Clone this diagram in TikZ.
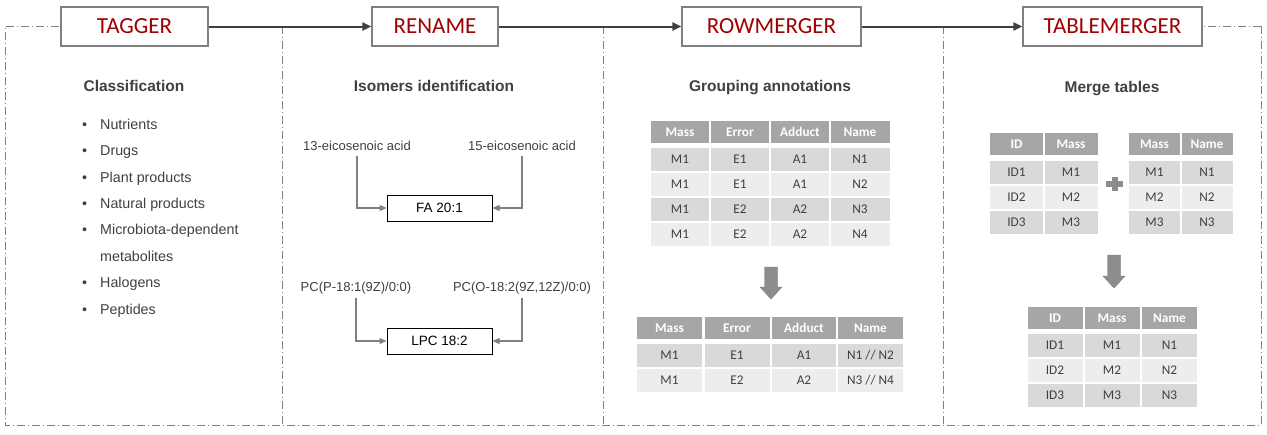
\documentclass[tikz,border=0pt]{standalone}
\usepackage{fontspec}
\setmainfont{Liberation Sans}
\newfontfamily\calfont{Carlito}
\usetikzlibrary{arrows.meta}

\definecolor{stepred}{HTML}{A00000}
\definecolor{framegray}{HTML}{808080}
\definecolor{textgray}{HTML}{404040}
\definecolor{headgray}{HTML}{A6A6A6}
\definecolor{darkrow}{HTML}{D9D9D9}
\definecolor{lightrow}{HTML}{EDEDED}
\definecolor{blockgray}{HTML}{8C8C8C}

\tikzset{
  stepbox/.style={draw=framegray, line width=1.2pt, fill=white, minimum height=39pt, inner sep=0pt, text=stepred, font=\calfont\fontsize{23}{23}\selectfont},
  frameline/.style={draw=framegray, line width=0.8pt, dash pattern=on 8pt off 3pt on 1pt off 3pt},
  flowarrow/.style={draw=textgray, line width=2pt, -{Triangle[length=9pt,width=8pt]}},
  heading/.style={anchor=base, text=textgray, inner sep=0pt, font=\bfseries\fontsize{15.5}{16}\selectfont},
  listitem/.style={anchor=base west, text=textgray, inner sep=0pt, font=\fontsize{14.3}{15}\selectfont},
  isoname/.style={anchor=base, text=textgray, inner sep=0pt, font=\fontsize{13}{14}\selectfont},
  isobox/.style={draw=black, line width=1pt, minimum width=105pt, minimum height=26pt, inner sep=0pt, font=\fontsize{13.5}{14}\selectfont},
  isoarrow/.style={draw=framegray, line width=1.1pt, -{Triangle[length=7pt,width=6pt]}},
  cellbase/.style={draw=white, line width=2pt, inner sep=0pt, font=\calfont\fontsize{13.3}{14}\selectfont},
  headcell/.style={cellbase, fill=headgray, text=white, minimum height=24pt, font=\calfont\bfseries\fontsize{13.3}{14}\selectfont},
  darkcell/.style={cellbase, fill=darkrow, text=textgray, minimum height=25pt},
  lightcell/.style={cellbase, fill=lightrow, text=textgray, minimum height=25pt},
  blockarrow/.style={fill=blockgray, draw=blockgray!85!black, line width=0.4pt},
}

\begin{document}
\begin{tikzpicture}[x=1pt,y=-1pt]
\useasboundingbox (0,0) rectangle (1267,434);

%Frame and dividers
\coordinate (frameTL) at (5,26);
\coordinate (frameTR) at (1261,26);
\coordinate (frameBL) at (5,425);
\coordinate (frameBR) at (1261,425);
\coordinate (divA) at (282,26);
\coordinate (divAbot) at (282,425);
\coordinate (divB) at (603,26);
\coordinate (divBbot) at (603,425);
\coordinate (divC) at (943,26);
\coordinate (divCbot) at (943,425);
\draw[frameline] (frameTR) -- (frameBR) -- (frameBL) -- (frameTL) -- (134,26);
\draw[frameline] (frameTR) -- (1112,26);
\draw[frameline] (divA) -- (divAbot);
\draw[frameline] (divB) -- (divBbot);
\draw[frameline] (divC) -- (divCbot);

%Steps
\node[stepbox, minimum width=147pt] (tagger) at (134.5,26.5) {TAGGER};
\node[stepbox, minimum width=126pt] (rename) at (435,26.5) {RENAME};
\node[stepbox, minimum width=179pt] (rowmerger) at (771.5,26.5) {ROWMERGER};
\node[stepbox, minimum width=179pt] (tablemerger) at (1112.5,26.5) {TABLEMERGER};
\draw[flowarrow] (tagger) -- (rename);
\draw[flowarrow] (rename) -- (rowmerger);
\draw[flowarrow] (rowmerger) -- (tablemerger);

%Tagger
\node[heading] (classif) at (134,91.5) {Classification};
\node[listitem] (nutr) at (82,129) {\makebox[18pt][l]{\textbullet}Nutrients};
\node[listitem] (drugs) at (82,155) {\makebox[18pt][l]{\textbullet}Drugs};
\node[listitem] (plant) at (82,182) {\makebox[18pt][l]{\textbullet}Plant products};
\node[listitem] (natural) at (82,208) {\makebox[18pt][l]{\textbullet}Natural products};
\node[listitem] (microb) at (82,234) {\makebox[18pt][l]{\textbullet}Microbiota-dependent};
\node[listitem] (metab) at (100,261) {metabolites};
\node[listitem] (halog) at (82,287) {\makebox[18pt][l]{\textbullet}Halogens};
\node[listitem] (pept) at (82,314) {\makebox[18pt][l]{\textbullet}Peptides};

%Rename
\node[heading] (isomers) at (434,91.5) {Isomers identification};
\node[isoname] (acid13) at (357,150) {13-eicosenoic acid};
\node[isoname] (acid15) at (522,150) {15-eicosenoic acid};
\node[isobox] (fa201) at (439.5,208) {FA 20:1};
\draw[isoarrow] ([yshift=-6pt]acid13.south) |- (fa201);
\draw[isoarrow] ([yshift=-6pt]acid15.south) |- (fa201);
\node[isoname] (pcp) at (356,291) {PC(P-18:1(9Z)/0:0)};
\node[isoname] (pco) at (522,291) {PC(O-18:2(9Z,12Z)/0:0)};
\node[isobox] (lpc182) at (439.5,341) {LPC 18:2};
\draw[isoarrow] ([yshift=-4pt]pcp.south) |- (lpc182);
\draw[isoarrow] ([yshift=-4pt]pco.south) |- (lpc182);

%Rowmerger
\node[heading] (grouping) at (770,91.5) {Grouping annotations};
\begin{scope}[every node/.append style={minimum width=61pt}]
\node[headcell] (grpH1) at (680,132) {Mass};
\node[headcell] (grpH2) at (740,132) {Error};
\node[headcell] (grpH3) at (800,132) {Adduct};
\node[headcell] (grpH4) at (860,132) {Name};
\node[darkcell] (grp11) at (680,159) {M1};
\node[darkcell] (grp12) at (740,159) {E1};
\node[darkcell] (grp13) at (800,159) {A1};
\node[darkcell] (grp14) at (860,159) {N1};
\node[lightcell] (grp21) at (680,184) {M1};
\node[lightcell] (grp22) at (740,184) {E1};
\node[lightcell] (grp23) at (800,184) {A1};
\node[lightcell] (grp24) at (860,184) {N2};
\node[darkcell] (grp31) at (680,209) {M1};
\node[darkcell] (grp32) at (740,209) {E2};
\node[darkcell] (grp33) at (800,209) {A2};
\node[darkcell] (grp34) at (860,209) {N3};
\node[lightcell] (grp41) at (680,234) {M1};
\node[lightcell] (grp42) at (740,234) {E2};
\node[lightcell] (grp43) at (800,234) {A2};
\node[lightcell] (grp44) at (860,234) {N4};
\end{scope}
\draw[blockarrow] (764.5,267) -- (777.5,267) -- (777.5,287) -- (782,287) -- (771,299) -- (760,287) -- (764.5,287) -- cycle;
\begin{scope}[every node/.append style={minimum width=67pt}]
\node[headcell] (mrgH1) at (669.5,328) {Mass};
\node[headcell] (mrgH2) at (737,328) {Error};
\node[headcell] (mrgH3) at (804,328) {Adduct};
\node[headcell] (mrgH4) at (870.5,328) {Name};
\node[darkcell] (mrg11) at (669.5,355) {M1};
\node[darkcell] (mrg12) at (737,355) {E1};
\node[darkcell] (mrg13) at (804,355) {A1};
\node[darkcell] (mrg14) at (870.5,355) {N1 // N2};
\node[lightcell] (mrg21) at (669.5,380) {M1};
\node[lightcell] (mrg22) at (737,380) {E2};
\node[lightcell] (mrg23) at (804,380) {A2};
\node[lightcell] (mrg24) at (870.5,380) {N3 // N4};
\end{scope}

%Tablemerger
\node[heading] (mergetab) at (1112,92.5) {Merge tables};
\begin{scope}[every node/.append style={minimum width=55pt}]
\node[headcell] (tabAH1) at (1016.5,144) {ID};
\node[headcell] (tabAH2) at (1071,144) {Mass};
\node[darkcell] (tabA11) at (1016.5,172) {ID1};
\node[darkcell] (tabA12) at (1071,172) {M1};
\node[lightcell] (tabA21) at (1016.5,197) {ID2};
\node[lightcell] (tabA22) at (1071,197) {M2};
\node[darkcell] (tabA31) at (1016.5,222) {ID3};
\node[darkcell] (tabA32) at (1071,222) {M3};
\end{scope}
\begin{scope}[every node/.append style={minimum width=53pt}]
\node[headcell] (tabBH1) at (1154.5,144) {Mass};
\node[headcell] (tabBH2) at (1207,144) {Name};
\node[darkcell] (tabB11) at (1154.5,172) {M1};
\node[darkcell] (tabB12) at (1207,172) {N1};
\node[lightcell] (tabB21) at (1154.5,197) {M2};
\node[lightcell] (tabB22) at (1207,197) {N2};
\node[darkcell] (tabB31) at (1154.5,222) {M3};
\node[darkcell] (tabB32) at (1207,222) {N3};
\end{scope}
%Plus
\fill[blockgray] (1106,181) rectangle (1123,187);
\fill[blockgray] (1111.5,177) rectangle (1117.5,191);
\draw[blockarrow] (1107.5,255) -- (1120.5,255) -- (1120.5,276) -- (1125,276) -- (1114,288) -- (1103,276) -- (1107.5,276) -- cycle;
\begin{scope}[every node/.append style={minimum width=57pt}]
\node[headcell] (tabCH1) at (1055,318) {ID};
\node[headcell] (tabCH2) at (1112,318) {Mass};
\node[headcell] (tabCH3) at (1169.5,318) {Name};
\node[darkcell] (tabC11) at (1055,345) {ID1};
\node[darkcell] (tabC12) at (1112,345) {M1};
\node[darkcell] (tabC13) at (1169.5,345) {N1};
\node[lightcell] (tabC21) at (1055,370) {ID2};
\node[lightcell] (tabC22) at (1112,370) {M2};
\node[lightcell] (tabC23) at (1169.5,370) {N2};
\node[darkcell] (tabC31) at (1055,395) {ID3};
\node[darkcell] (tabC32) at (1112,395) {M3};
\node[darkcell] (tabC33) at (1169.5,395) {N3};
\end{scope}
\end{tikzpicture}
\end{document}
